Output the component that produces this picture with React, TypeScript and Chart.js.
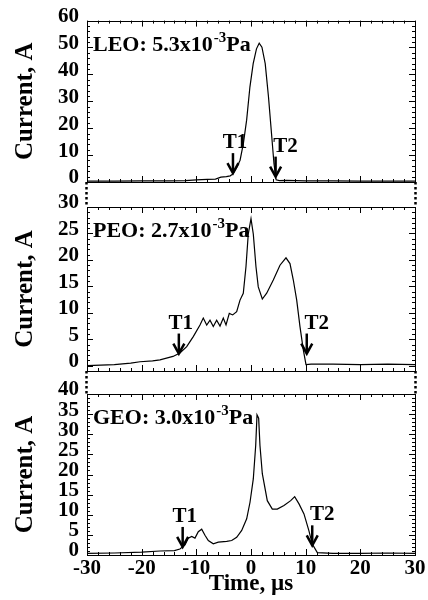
import { useEffect, useRef } from 'react';
import { Chart, registerables } from 'chart.js';

Chart.register(...registerables);

// ---------- data ----------
const timeTicks = [-30, -20, -10, 0, 10, 20, 30];
const leoTicks = [0, 10, 20, 30, 40, 50, 60];
const peoTicks = [0, 5, 10, 15, 20, 25, 30];
const geoTicks = [0, 5, 10, 15, 20, 25, 30, 35, 40];

const leoTime = [-30, -25, -20, -15, -12, -10, -8, -6.5, -5.5, -4.5, -3.8, -3.3, -2.6, -2.0, -1.4, -0.8, -0.2, 0.4, 1.0, 1.5, 2.0, 2.6, 3.2, 3.8, 4.2, 4.6, 5.2, 6.5, 10, 15, 20, 25, 30];
const leoCurrent = [0.3, 0.3, 0.4, 0.4, 0.5, 0.8, 1.0, 1.1, 1.8, 2.0, 2.3, 3.0, 5.5, 8.1, 14.3, 23.0, 35.3, 44.0, 49.5, 51.6, 50.1, 44.0, 31.6, 16.8, 6.9, 0.8, 0.5, 0.6, 0.4, 0.4, 0.3, 0.3, 0.3];

const peoTime = [-30, -25, -22, -20.3, -18, -16.65, -14.27, -13.0, -11.76, -10.56, -9.33, -8.73, -8.1, -7.5, -6.9, -6.28, -5.67, -5.07, -4.57, -3.97, -3.35, -2.62, -2.01, -1.41, -0.92, -0.5, 0.0, 0.42, 0.91, 1.33, 2.07, 2.87, 4.08, 5.3, 6.4, 7.13, 7.74, 8.36, 8.96, 9.57, 10.06, 11, 15, 20, 25, 30];
const peoCurrent = [0.0, 0.2, 0.5, 0.75, 0.9, 1.1, 1.75, 2.4, 3.6, 5.5, 7.7, 9.0, 7.7, 8.6, 7.4, 8.6, 7.5, 9.0, 7.7, 9.9, 9.6, 10.2, 12.4, 13.7, 18.7, 24.9, 27.8, 24.9, 18.7, 14.9, 12.6, 13.7, 16.2, 19.0, 20.4, 19.3, 16.2, 12.4, 7.4, 3.0, 0.2, 0.3, 0.3, 0.2, 0.3, 0.2];

const geoTime = [-30, -25, -20, -16.65, -14, -13.0, -12.07, -11.47, -10.85, -10.25, -9.64, -9.02, -8.42, -7.81, -6.9, -5.98, -4.45, -3.53, -2.62, -1.7, -0.79, -0.18, 0.42, 0.86, 1.1, 1.4, 1.64, 2.07, 2.98, 3.9, 4.81, 6.03, 7.26, 7.99, 8.78, 9.69, 10.6, 11.21, 12.13, 15, 20, 25, 30];
const geoCurrent = [0.4, 0.5, 0.7, 1.0, 1.1, 1.5, 2.5, 4.2, 4.6, 4.2, 5.8, 6.4, 4.9, 3.6, 2.8, 3.2, 3.4, 3.6, 4.4, 6.1, 9.0, 13.1, 18.9, 27.2, 34.8, 34.0, 27.2, 20.2, 13.5, 11.4, 11.4, 12.3, 13.5, 14.5, 12.7, 10.2, 6.0, 2.7, 0.6, 0.4, 0.4, 0.5, 0.4];

// T1 / T2 marker positions (time, current at arrow tip)
const leoMarkTime = [-3.3, 4.5];
const leoMarkCurrent = [3.3, 2.0];
const peoMarkTime = [-13.2, 10.2];
const peoMarkCurrent = [2.3, 2.3];
const geoMarkTime = [-12.5, 11.2];
const geoMarkCurrent = [2.0, 2.4];
const markNames = ['T1', 'T2'];

const panelNames = ['LEO: 5.3x10', 'PEO: 2.7x10', 'GEO: 3.0x10'];
const panelExp = '-3';
const panelUnit = 'Pa';

// ---------- styling ----------
const FONT = "'Liberation Serif', 'Times New Roman', serif";

type Panel = {
  time: number[];
  current: number[];
  majors: number[];
  minor: number;
  yMin: number;
  yMax: number;
  top: number;
  bottomPad: number;
  gapAbove: number;
  showX: boolean;
  name: string;
  markTime: number[];
  markCurrent: number[];
};

const panels: Panel[] = [
  { time: leoTime, current: leoCurrent, majors: leoTicks, minor: 2, yMin: 0, yMax: 60, top: 20, bottomPad: 418, gapAbove: 0, showX: false, name: panelNames[0], markTime: leoMarkTime, markCurrent: leoMarkCurrent },
  { time: peoTime, current: peoCurrent, majors: peoTicks, minor: 1, yMin: -1, yMax: 30, top: 207, bottomPad: 229, gapAbove: 25, showX: false, name: panelNames[1], markTime: peoMarkTime, markCurrent: peoMarkCurrent },
  { time: geoTime, current: geoCurrent, majors: geoTicks, minor: 1, yMin: 0, yMax: 40, top: 394, bottomPad: 0, gapAbove: 23, showX: true, name: panelNames[2], markTime: geoMarkTime, markCurrent: geoMarkCurrent },
];

function decorPlugin(p: Panel, idx: number) {
  return {
    id: 'decor' + idx,
    afterDatasetsDraw(chart: any) {
      const { ctx, chartArea: a, scales } = chart;
      const xs = scales.x;
      const ys = scales.y;
      ctx.save();
      ctx.strokeStyle = '#000';
      ctx.fillStyle = '#000';
      ctx.lineWidth = 1;
      ctx.setLineDash([]);
      // frame
      ctx.strokeRect(Math.round(a.left) + 0.5, Math.round(a.top) + 0.5, Math.round(a.right - a.left), Math.round(a.bottom - a.top));
      // y ticks (inward on both sides)
      ctx.beginPath();
      for (let i = Math.ceil(p.yMin / p.minor); i * p.minor <= p.yMax + 1e-9; i++) {
        const v = i * p.minor;
        const major = p.majors.some((m) => Math.abs(m - v) < 1e-9);
        const len = major ? 6 : 3;
        const y = Math.round(ys.getPixelForValue(v)) + 0.5;
        ctx.moveTo(a.left, y);
        ctx.lineTo(a.left + len, y);
        ctx.moveTo(a.right, y);
        ctx.lineTo(a.right - len, y);
      }
      // x ticks (inward on top and bottom)
      for (let i = -15; i <= 15; i++) {
        const v = i * 2;
        const major = timeTicks.some((m) => Math.abs(m - v) < 1e-9);
        const len = major ? 6 : 3;
        const x = Math.round(xs.getPixelForValue(v)) + 0.5;
        ctx.moveTo(x, a.top);
        ctx.lineTo(x, a.top + len);
        ctx.moveTo(x, a.bottom);
        ctx.lineTo(x, a.bottom - len);
      }
      ctx.stroke();
      // axis break (dotted sides) above the panel
      if (p.gapAbove > 0) {
        ctx.lineWidth = 2.5;
        ctx.setLineDash([2.5, 2.5]);
        ctx.beginPath();
        ctx.moveTo(a.left - 0.5, a.top - p.gapAbove);
        ctx.lineTo(a.left - 0.5, a.top);
        ctx.moveTo(a.right + 0.5, a.top - p.gapAbove);
        ctx.lineTo(a.right + 0.5, a.top);
        ctx.stroke();
        ctx.setLineDash([]);
      }
      // panel label
      ctx.textBaseline = 'alphabetic';
      ctx.textAlign = 'left';
      const tx = a.left + 6;
      const ty = a.top + 30;
      ctx.font = `bold 22px ${FONT}`;
      ctx.fillText(p.name, tx, ty);
      const w1 = ctx.measureText(p.name).width;
      ctx.font = `bold 15px ${FONT}`;
      ctx.fillText(panelExp, tx + w1 + 1, ty - 9);
      const w2 = ctx.measureText(panelExp).width;
      ctx.font = `bold 22px ${FONT}`;
      ctx.fillText(panelUnit, tx + w1 + w2 + 1, ty);
      // T1 / T2 arrows
      ctx.lineWidth = 2.5;
      ctx.lineCap = 'butt';
      for (let k = 0; k < p.markTime.length; k++) {
        const x = xs.getPixelForValue(p.markTime[k]);
        const tip = ys.getPixelForValue(p.markCurrent[k]);
        ctx.beginPath();
        ctx.moveTo(x, tip - 20);
        ctx.lineTo(x, tip - 2);
        ctx.stroke();
        ctx.beginPath();
        ctx.moveTo(x - 5.5, tip - 10);
        ctx.lineTo(x, tip);
        ctx.lineTo(x + 5.5, tip - 10);
        ctx.stroke();
        ctx.font = `bold 21px ${FONT}`;
        ctx.textAlign = 'center';
        const lx = k === 0 ? x + 2 : x + 10;
        ctx.fillText(markNames[k], lx, tip - 25);
      }
      ctx.restore();
    },
  };
}

function makeConfig(p: Panel, idx: number): any {
  const tickFont = { family: FONT, size: 21, weight: 'bold' as const };
  const titleFont = { family: FONT, size: 25, weight: 'bold' as const };
  const xScale: any = p.showX
    ? {
        type: 'linear',
        min: -30,
        max: 30,
        grid: { display: false, drawTicks: false },
        border: { display: false },
        ticks: { font: tickFont, color: '#000', padding: 1, autoSkip: false, maxRotation: 0 },
        afterBuildTicks: (s: any) => {
          s.ticks = timeTicks.map((v) => ({ value: v }));
        },
        afterFit: (s: any) => {
          s.height = 45;
        },
        title: { display: true, text: 'Time, µs', font: { family: FONT, size: 23, weight: 'bold' }, color: '#000', padding: { top: 0, bottom: 2 } },
      }
    : { type: 'linear', min: -30, max: 30, display: false };
  return {
    type: 'line',
    data: {
      datasets: [
        {
          data: p.time.map((t, i) => ({ x: t, y: p.current[i] })),
          borderColor: '#000',
          borderWidth: 1.2,
          pointRadius: 0,
          tension: 0,
          fill: false,
        },
      ],
    },
    options: {
      animation: false,
      responsive: false,
      maintainAspectRatio: false,
      events: [],
      layout: { padding: { top: p.top, bottom: p.bottomPad, left: 0, right: 13 }, autoPadding: false },
      plugins: { legend: { display: false }, tooltip: { enabled: false }, title: { display: false } },
      scales: {
        x: xScale,
        y: {
          type: 'linear',
          min: p.yMin,
          max: p.yMax,
          grid: { display: false, drawTicks: false },
          border: { display: false },
          ticks: { font: tickFont, color: '#000', padding: 8, autoSkip: false, labelOffset: -4 },
          afterBuildTicks: (s: any) => {
            s.ticks = p.majors.map((v) => ({ value: v }));
          },
          afterFit: (s: any) => {
            s.width = 87;
          },
          title: { display: true, text: 'Current, A', font: titleFont, color: '#000', padding: { top: 11, bottom: 0 } },
        },
      },
    },
    plugins: [decorPlugin(p, idx)],
  };
}

export default function App() {
  const canvasRefs = useRef<(HTMLCanvasElement | null)[]>([]);
  useEffect(() => {
    const charts = panels.map((p, i) => new Chart(canvasRefs.current[i] as HTMLCanvasElement, makeConfig(p, i)));
    return () => {
      charts.forEach((c) => c.destroy());
    };
  }, []);
  return (
    <div style={{ position: 'fixed', left: 0, top: 0, width: 428, height: 600, background: '#fff' }}>
      {panels.map((_, i) => (
        <canvas
          key={i}
          ref={(el) => {
            canvasRefs.current[i] = el;
          }}
          width={428}
          height={600}
          style={{ position: 'absolute', left: 0, top: 0, width: 428, height: 600 }}
        />
      ))}
    </div>
  );
}
